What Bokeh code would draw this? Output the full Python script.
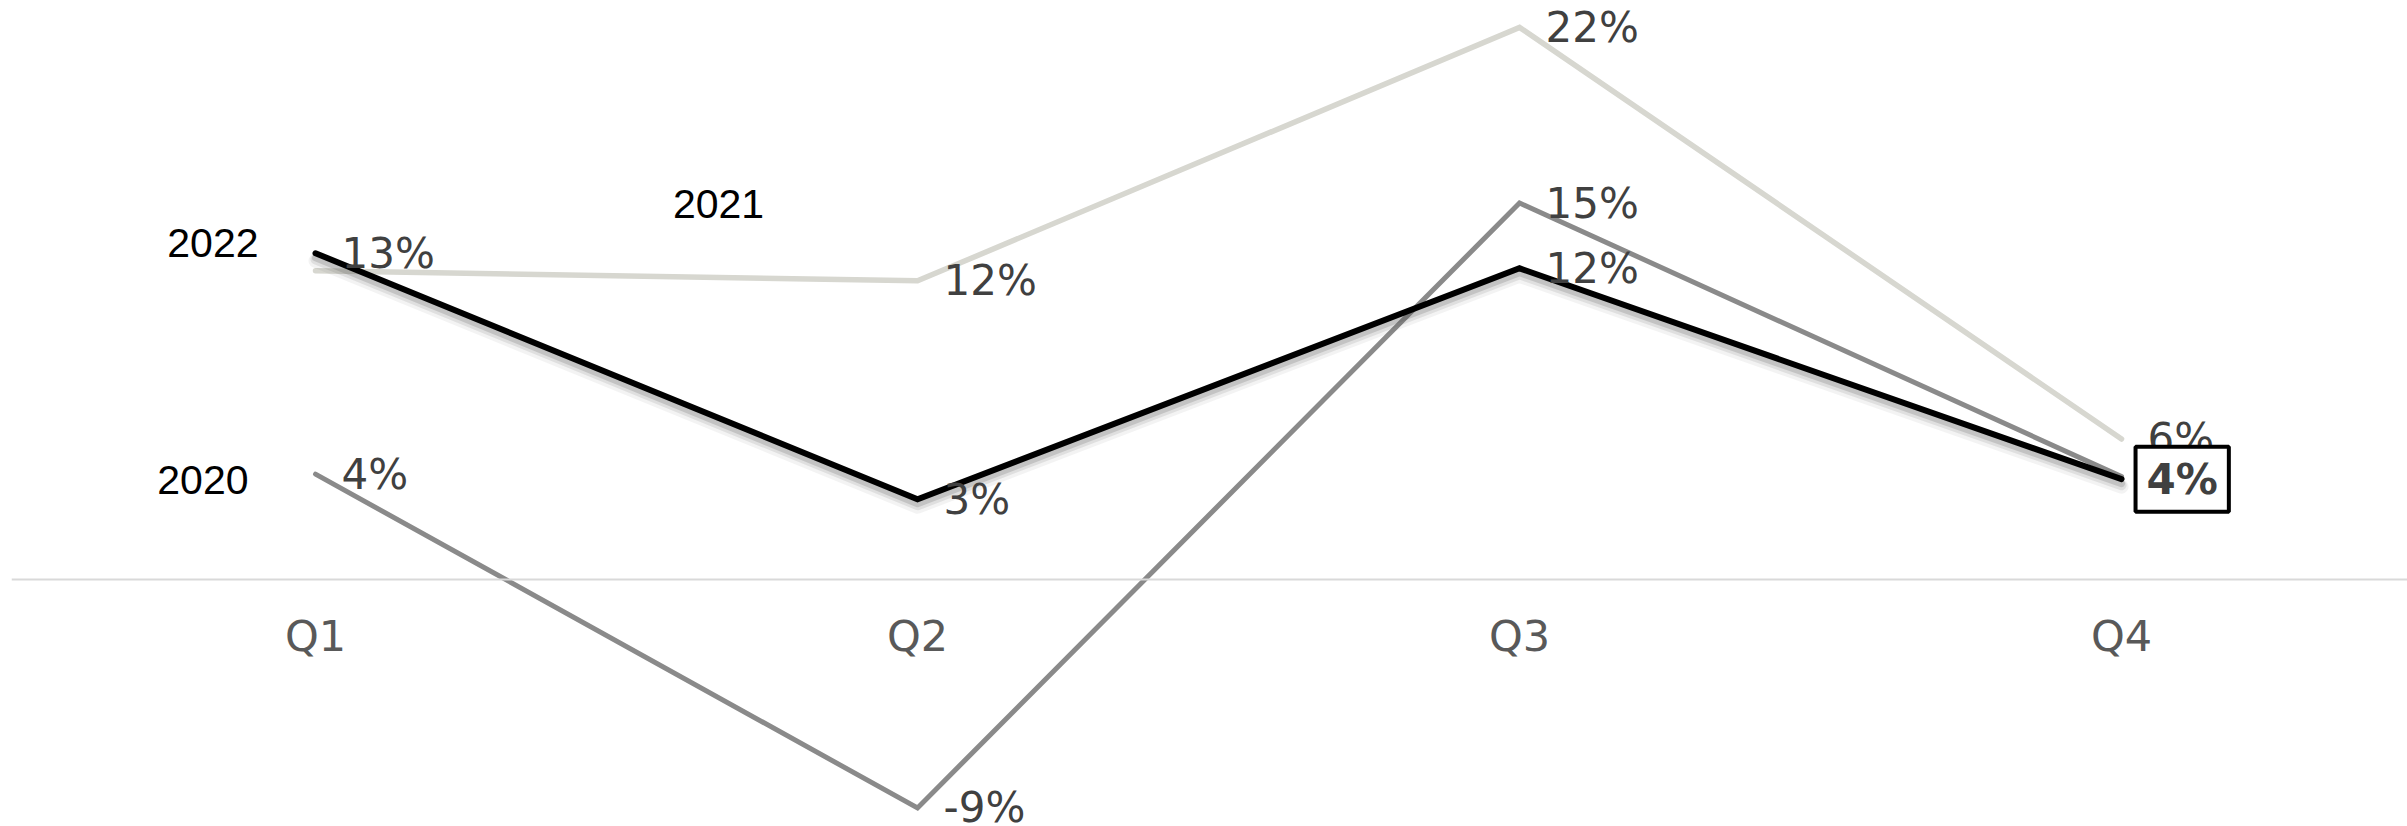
from bokeh.plotting import figure
from bokeh.models import ColumnDataSource, Range1d, Span
from bokeh.core.properties import value
from bokeh.embed import file_html
from bokeh.resources import INLINE

# ---- data ----
quarters = ["Q1", "Q2", "Q3", "Q4"]
s2020 = [4.2, -9.1, 15.0, 4.1]
s2021 = [12.3, 11.9, 22.0, 5.6]
s2022 = [13.0, 3.2, 12.4, 4.0]
series_names = ["2020", "2021", "2022"]

# which point labels are shown (per series, per quarter)
show_2020 = [True, True, True, True]
show_2021 = [False, True, True, True]
show_2022 = [True, True, True, False]  # Q4 of 2022 is the highlighted boxed label

xs = list(range(len(quarters)))

LABEL_FONT = value("DejaVu Sans")
NAME_FONT = value("Liberation Sans")
LABEL_COLOR = "#404040"

p = figure(width=2407, height=826, output_backend="svg", toolbar_location=None,
           x_range=Range1d(-0.505, 3.475), y_range=Range1d(-9.84, 23.07),
           min_border_left=11, min_border_right=0, min_border_top=0, min_border_bottom=0)
p.axis.visible = False
p.grid.visible = False
p.outline_line_color = None
p.background_fill_color = "white"
p.border_fill_color = "white"

# zero line
p.add_layout(Span(location=0, dimension="width", line_color="#d9d9d9", line_width=2))

# category labels
p.text(x=xs, y=[0] * 4, text=quarters, text_font=LABEL_FONT, text_font_size="43px",
       text_color="#595959", text_align="center", text_baseline="middle", y_offset=56)

# 2021 (light)
p.line(xs, s2021, line_color="#d7d7d0", line_width=5.5, line_join="miter", line_cap="round")
# 2020 (grey)
p.line(xs, s2020, line_color="#8a8a8a", line_width=5, line_join="miter", line_cap="round")
# 2022 shadow
for dy, w, a in [(0.30, 14, 0.07), (0.24, 10, 0.12), (0.18, 7, 0.20)]:
    p.line(xs, [v - dy for v in s2022], line_color="#555555", line_alpha=a,
           line_width=w, line_join="round", line_cap="round")
# 2022 (black)
p.line(xs, s2022, line_color="black", line_width=6, line_join="miter", line_cap="round")


def fmt(v):
    return f"{round(v):.0f}%"


def labels(vals, show):
    xx = [x for x, s in zip(xs, show) if s]
    yy = [v for v, s in zip(vals, show) if s]
    tt = [fmt(v) for v, s in zip(vals, show) if s]
    return ColumnDataSource(dict(x=xx, y=yy, t=tt))


for vals, show in [(s2021, show_2021), (s2020, show_2020), (s2022, show_2022)]:
    p.text(x="x", y="y", text="t", source=labels(vals, show), text_font=LABEL_FONT,
           text_font_size="42px", text_color=LABEL_COLOR, text_align="left",
           text_baseline="middle", x_offset=26)

# highlighted Q4 label of 2022 with box
p.text(x=[xs[3]], y=[s2022[3]], text=[fmt(s2022[3])], text_font=LABEL_FONT,
       text_font_size="42px", text_font_style="bold", text_color=LABEL_COLOR,
       text_align="left", text_baseline="middle", x_offset=14,
       background_fill_color="white", border_line_color="black", border_line_width=4,
       padding=dict(left=11, right=11, top=8, bottom=8))

# series name labels
p.text(x=[xs[0]], y=[s2022[0]], text=[series_names[2]], text_font=NAME_FONT,
       text_font_size="41px", text_color="black", text_align="right",
       text_baseline="middle", x_offset=-57, y_offset=-10)
p.text(x=[xs[0]], y=[s2020[0]], text=[series_names[0]], text_font=NAME_FONT,
       text_font_size="41px", text_color="black", text_align="right",
       text_baseline="middle", x_offset=-67, y_offset=6)
p.text(x=[xs[0]], y=[s2021[0]], text=[series_names[1]], text_font=NAME_FONT,
       text_font_size="41px", text_color="black", text_align="center",
       text_baseline="middle", x_offset=403, y_offset=-67)

open("out.html", "w").write(file_html(p, INLINE))
